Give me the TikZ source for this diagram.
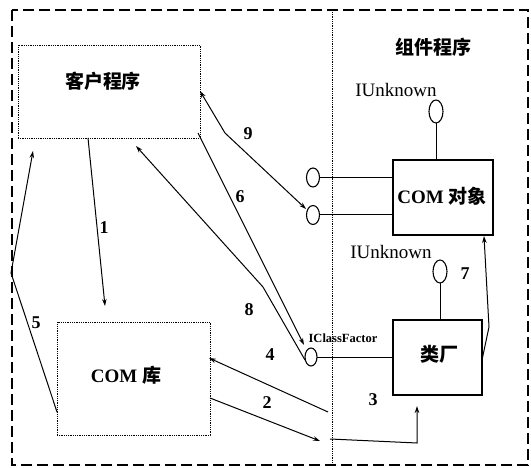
\documentclass[tikz,border=0pt]{standalone}
\usepackage{fontspec}
\setmainfont{Liberation Serif}
\newfontfamily\cjk{Noto Sans CJK SC}
\usetikzlibrary{arrows.meta,shapes.geometric}
\begin{document}
\begin{tikzpicture}[x=1pt,y=-1pt,
  every node/.style={inner sep=0pt,outer sep=0pt},
  conn/.style={line width=1pt,-{Stealth[length=7pt,width=4.5pt]}},
  plain/.style={line width=1pt},
  dotbox/.style={draw,densely dotted,line width=0.8pt},
  solidbox/.style={draw,line width=1.3pt},
  lolli/.style={draw,ellipse,line width=1.1pt,minimum width=13pt,minimum height=19pt},
  lolbig/.style={draw,ellipse,line width=1.1pt,minimum width=14pt,minimum height=23pt},
  num/.style={font=\fontsize{18}{18}\selectfont\bfseries},
  lbl/.style={font=\fontsize{19}{19}\selectfont}]
\useasboundingbox (0,0) rectangle (531,468);
% outer border
\draw[line width=1.7pt,dash pattern=on 11pt off 5pt] (12,10) rectangle (528,465);
\draw[densely dotted,line width=0.8pt] (332,12) -- (332,463);
% boxes
\node[dotbox,minimum width=182pt,minimum height=93pt] (client) at (109,91.5) {};
\node[font=\fontsize{19}{19}\selectfont\cjk\bfseries] at (103,81) {客户程序};
\node[dotbox,minimum width=153pt,minimum height=113pt] (lib) at (133.5,378.5) {};
\node[font=\fontsize{19}{19}\selectfont\bfseries] at (126,375) {COM {\cjk 库}};
\node[font=\fontsize{19}{19}\selectfont\cjk\bfseries] at (433,47) {组件程序};
\node[solidbox,minimum width=100pt,minimum height=75pt] (obj) at (443,197.5) {};
\node[font=\fontsize{19}{19}\selectfont\bfseries] at (442,196) {COM {\cjk 对象}};
\node[solidbox,minimum width=89pt,minimum height=75pt] (fac) at (437.5,357.5) {};
\node[font=\fontsize{19}{19}\selectfont\cjk\bfseries] at (439,354) {类厂};
% lollipops
\node[lolbig] (ltop) at (436,111.5) {};
\draw[plain] (ltop.south) -- (obj.north -| ltop.south);
\node[lbl] at (396,90) {IUnknown};
\node[lolli] (l1) at (313,177.5) {};
\node[lolli] (l2) at (313,215) {};
\draw[plain] (l1.east) -- (l1.east -| obj.west);
\draw[plain] (l2.east) -- (l2.east -| obj.west);
\node[lolbig] (lfac) at (440,271.5) {};
\draw[plain] (lfac.south) -- (lfac.south |- fac.north);
\node[lbl] at (391,252) {IUnknown};
\node[lolli,minimum width=12pt,minimum height=18pt] (lcf) at (311,357) {};
\draw[plain] (lcf.east) -- (lcf.east -| fac.west);
\node[font=\fontsize{12.5}{12.5}\selectfont\bfseries] at (343,338) {IClassFactor};
% connectors
\coordinate (c1s) at (88,138);
\coordinate (c1e) at (105,306);
\draw[conn] (c1s) -- (c1e);
\coordinate (c5a) at (57,412);
\coordinate (c5b) at (11,273);
\coordinate (c5e) at (33,151);
\draw[conn] (c5a) -- (c5b) -- (c5e);
\coordinate (c8s) at (305,360);
\coordinate (c8m) at (263,287);
\coordinate (c8e) at (136,146);
\draw[conn] (c8s) -- (c8m) -- (c8e);
\coordinate (c6s) at (198,133);
\coordinate (c6e) at (304,345);
\draw[conn] (c6s) -- (c6e);
\coordinate (c9s) at (200,91);
\coordinate (c9m) at (225,133);
\coordinate (c9e) at (306,209);
\draw[conn,{Stealth[length=7pt,width=4.5pt]}-{Stealth[length=7pt,width=4.5pt]}] (c9s) -- (c9m) -- (c9e);
\coordinate (c4s) at (328,412);
\coordinate (c4e) at (209,358);
\draw[conn] (c4s) -- (c4e);
\coordinate (c2s) at (210,398);
\coordinate (c2e) at (320,441);
\draw[conn] (c2s) -- (c2e);
\coordinate (c3s) at (330,439);
\coordinate (c3m) at (417,443);
\coordinate (c3e) at (417,406);
\draw[conn] (c3s) -- (c3m) -- (c3e);
\coordinate (c7s) at (482,360);
\coordinate (c7m) at (489,327);
\coordinate (c7e) at (484,236);
\draw[conn] (c7s) -- (c7m) -- (c7e);
% numbers
\node[num] at (104,228) {1};
\node[num] at (36,323) {5};
\node[num] at (240,197) {6};
\node[num] at (248,134) {9};
\node[num] at (249,310) {8};
\node[num] at (270,355) {4};
\node[num] at (267,403) {2};
\node[num] at (373,400) {3};
\node[num] at (465,274) {7};
\end{tikzpicture}
\end{document}
